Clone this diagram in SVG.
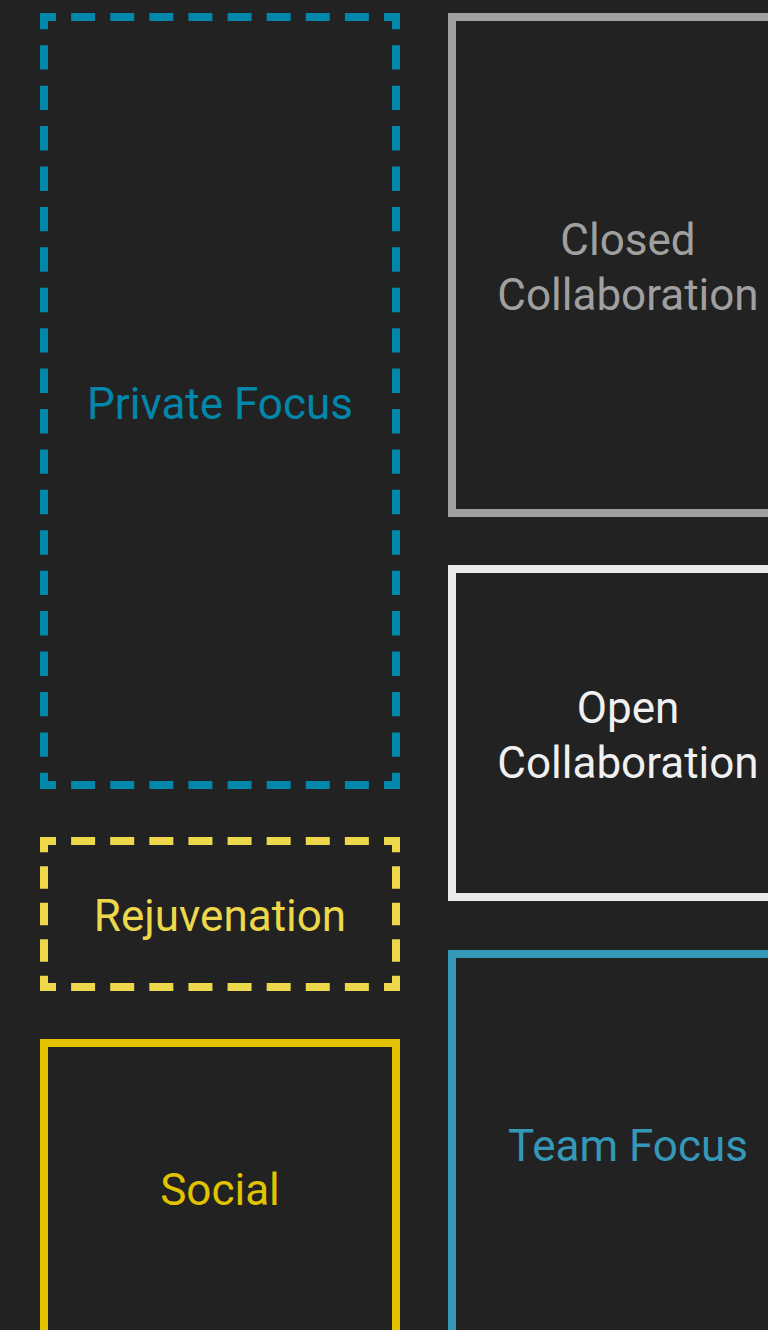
<svg xmlns="http://www.w3.org/2000/svg" width="768" height="1330" viewBox="0 0 768 1330">
<style>
  .lbl { font-family: Roboto, "Liberation Sans", sans-serif; font-size: 44px; text-anchor: middle; }
  .box { fill: #222222; stroke-width: 8; }
  .dh { stroke-width: 8; fill: none; stroke-dasharray: 24 15.111; stroke-dashoffset: 8; }
  .blue { stroke: #0087AA; }
  .yel { stroke: #EDD74B; }
  .dvb { stroke-width: 8; fill: none; stroke-dasharray: 24.4 16.021; stroke-dashoffset: 12.2; }
  .dvy { stroke-width: 8; fill: none; stroke-dasharray: 22.3 14.2; stroke-dashoffset: 11.15; }
</style>
<rect x="0" y="0" width="768" height="1330" fill="#222222"/>
<g id="connectors"></g>
<g id="private-focus">
  <line class="dh blue" x1="40" y1="17" x2="400" y2="17"/>
  <line class="dh blue" x1="40" y1="785" x2="400" y2="785"/>
  <line class="dvb blue" x1="44" y1="17" x2="44" y2="785"/>
  <line class="dvb blue" x1="396" y1="17" x2="396" y2="785"/>
  <text class="lbl" x="220" y="419" fill="#0087AA">Private Focus</text>
</g>
<g id="rejuvenation">
  <line class="dh yel" x1="40" y1="841" x2="400" y2="841"/>
  <line class="dh yel" x1="40" y1="987" x2="400" y2="987"/>
  <line class="dvy yel" x1="44" y1="841" x2="44" y2="987"/>
  <line class="dvy yel" x1="396" y1="841" x2="396" y2="987"/>
  <text class="lbl" x="220" y="931" fill="#EDD74B">Rejuvenation</text>
</g>
<g id="social">
  <rect class="box" x="44" y="1043" width="352" height="294" stroke="#E1C300"/>
  <text class="lbl" x="220" y="1205" fill="#E1C300">Social</text>
</g>
<g id="closed-collaboration">
  <rect class="box" x="452" y="17" width="352" height="496" stroke="#A0A0A0"/>
  <text class="lbl" x="628" y="255" fill="#A0A0A0">Closed</text>
  <text class="lbl" x="628" y="310" fill="#A0A0A0">Collaboration</text>
</g>
<g id="open-collaboration">
  <rect class="box" x="452" y="569" width="352" height="328" stroke="#EAEAEA"/>
  <text class="lbl" x="628" y="723" fill="#F0F0F0">Open</text>
  <text class="lbl" x="628" y="778" fill="#F0F0F0">Collaboration</text>
</g>
<g id="team-focus">
  <rect class="box" x="452" y="954" width="352" height="384" stroke="#3698B8"/>
  <text class="lbl" x="628" y="1161" fill="#3698B8">Team Focus</text>
</g>
</svg>
